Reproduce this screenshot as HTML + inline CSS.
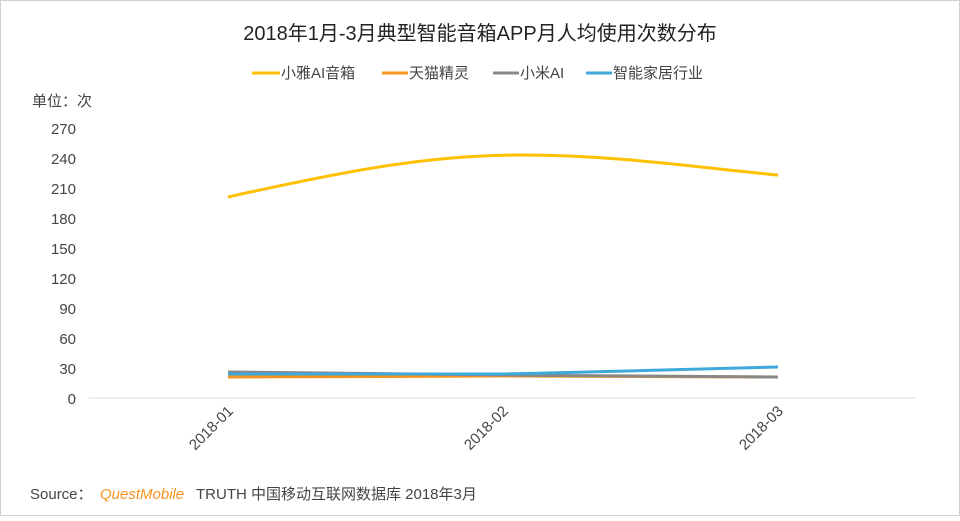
<!DOCTYPE html>
<html><head><meta charset="utf-8"><style>
body{margin:0;background:#fff}
svg text{font-family:"Liberation Sans","Noto Sans CJK SC",sans-serif}
</style></head><body>
<svg width="960" height="516" xmlns="http://www.w3.org/2000/svg">
<rect x="0.5" y="0.5" width="959" height="515" fill="#fff" stroke="#d0d0d0"/>
<text x="480" y="40" font-size="20" text-anchor="middle" fill="#222">2018年1月-3月典型智能音箱APP月人均使用次数分布</text>
<g font-size="15" fill="#444">
<line x1="252" y1="73" x2="280" y2="73" stroke="#FFC000" stroke-width="3"/><text x="281" y="78">小雅AI音箱</text>
<line x1="382" y1="73" x2="408" y2="73" stroke="#F7931E" stroke-width="3"/><text x="409" y="78">天猫精灵</text>
<line x1="493" y1="73" x2="519" y2="73" stroke="#888" stroke-width="3"/><text x="520" y="78">小米AI</text>
<line x1="586" y1="73" x2="612" y2="73" stroke="#3FA9DC" stroke-width="3"/><text x="613" y="78">智能家居行业</text>
</g>
<text x="32" y="106" font-size="15" fill="#444">单位：次</text>
<g font-size="15" fill="#444" text-anchor="end">
<text x="76" y="134">270</text><text x="76" y="164">240</text><text x="76" y="194">210</text>
<text x="76" y="224">180</text><text x="76" y="254">150</text><text x="76" y="284">120</text>
<text x="76" y="314">90</text><text x="76" y="344">60</text><text x="76" y="374">30</text><text x="76" y="404">0</text>
</g>
<line x1="89" y1="398" x2="916" y2="398" stroke="#ddd"/>
<g font-size="15" fill="#444" text-anchor="end">
<text transform="translate(234,412) rotate(-45)">2018-01</text>
<text transform="translate(509,412) rotate(-45)">2018-02</text>
<text transform="translate(784,412) rotate(-45)">2018-03</text>
</g>
<g fill="none" stroke-width="3">
<path d="M228,197 C350,170 430,155 520,155 C620,155 700,168 778,175" stroke="#FFC000"/>
<path d="M228,377 L503,376 L778,377" stroke="#F7931E"/>
<path d="M228,372 C400,374 500,375 503,375 C600,376 700,377 778,377" stroke="#888"/>
<path d="M228,374 L503,374 C600,372 700,369 778,367" stroke="#3FA9DC"/>
</g>
<text x="30" y="499" font-size="15" fill="#444">Source：</text>
<text x="100" y="499" font-size="15" fill="#F7931E" font-style="italic">QuestMobile</text>
<text x="196" y="499" font-size="15" fill="#444">TRUTH 中国移动互联网数据库 2018年3月</text>
</svg>
</body></html>
